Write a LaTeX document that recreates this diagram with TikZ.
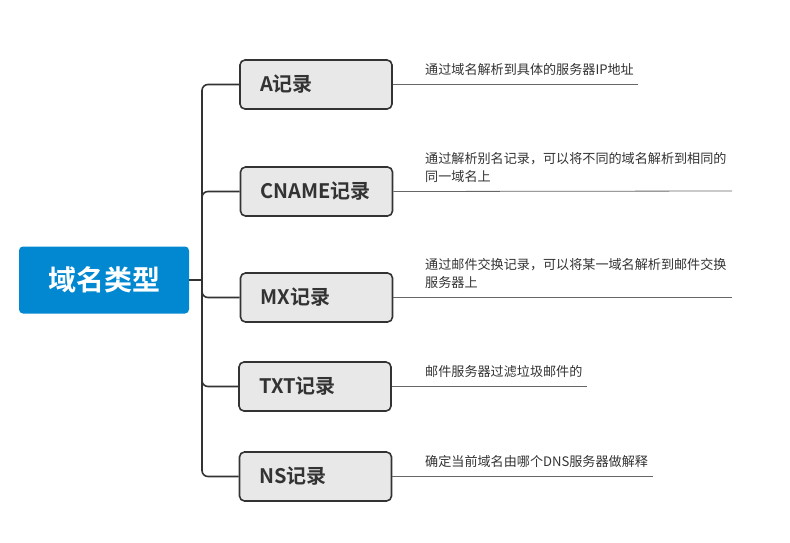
\documentclass[tikz,border=0pt]{standalone}
\usepackage{fontspec}
\setmainfont{Noto Sans CJK SC}
\newfontfamily\cjkbold{Noto Sans CJK SC Bold}
\usetikzlibrary{calc}
\definecolor{rootblue}{HTML}{0288D1}
\definecolor{boxgray}{HTML}{E8E8E8}
\definecolor{inkgray}{HTML}{333333}
\definecolor{linegray}{HTML}{666666}

\begin{document}
\begin{tikzpicture}[x=1pt,y=-1pt]
\tikzset{rootbox/.style = {fill=rootblue, rounded corners=4pt, minimum width=170pt, minimum height=67pt, text=white, font=\cjkbold\fontsize{28}{30}\selectfont},
  recbox/.style = {draw=inkgray, line width=1.6pt, fill=boxgray, rounded corners=5pt, text width=112pt, inner xsep=20pt, minimum height=49pt, text=inkgray, font=\cjkbold\fontsize{20}{22}\selectfont, align=left},
  note/.style = {anchor=south west, inner sep=0pt, text=inkgray, align=left, font=\fontsize{13.1}{18}\selectfont},
  branch/.style = {draw=inkgray, line width=1.6pt, rounded corners=6pt},
  noteline/.style = {draw=linegray, line width=0.8pt}}
\def\trunkx{202}
\def\notex{425}
\useasboundingbox (0,0) rectangle (790,542);

\node[rootbox] (root) at (104,280) {域名类型};
\coordinate (trunk) at (\trunkx,280);

\node[recbox] (A) at (316,84.5) {A记录};
\node[recbox] (CNAME) at (316.5,191.5) {CNAME记录};
\node[recbox] (MX) at (316.5,297.5) {MX记录};
\node[recbox] (TXT) at (315,386.5) {TXT记录};
\node[recbox] (NS) at (315.5,476.5) {NS记录};

% branches from the root
\draw[branch] (root.east) -- (trunk);
\draw[branch] (trunk) |- (A.west);
\draw[branch] (trunk) |- (CNAME.west);
\draw[branch] (trunk) |- (MX.west);
\draw[branch] (trunk) |- (TXT.west);
\draw[branch] (trunk) |- (NS.west);

% notes on each record
\coordinate (Aend) at (638,84.5);
\coordinate (CNAMEend) at (732,191);
\coordinate (MXend) at (732,297.5);
\coordinate (TXTend) at (587,386.5);
\coordinate (NSend) at (653,476.5);
\draw[noteline] (A.east) -- (Aend);
\draw[noteline] (CNAME.east) -- (CNAMEend);
\draw[noteline] (MX.east) -- (MXend);
\draw[noteline] (TXT.east) -- (TXTend);
\draw[noteline] (NS.east) -- (NSend);

\node[note] (Anote) at (\notex,76) {通过域名解析到具体的服务器IP地址};
\node[note] (CNAMEnote) at (\notex,182.5) {通过解析别名记录，可以将不同的域名解析到相同的\\同一域名上};
\node[note] (MXnote) at (\notex,289) {通过邮件交换记录，可以将某一域名解析到邮件交换\\服务器上};
\node[note] (TXTnote) at (\notex,378) {邮件服务器过滤垃圾邮件的};
\node[note] (NSnote) at (\notex,468) {确定当前域名由哪个DNS服务器做解释};
\end{tikzpicture}
\end{document}
